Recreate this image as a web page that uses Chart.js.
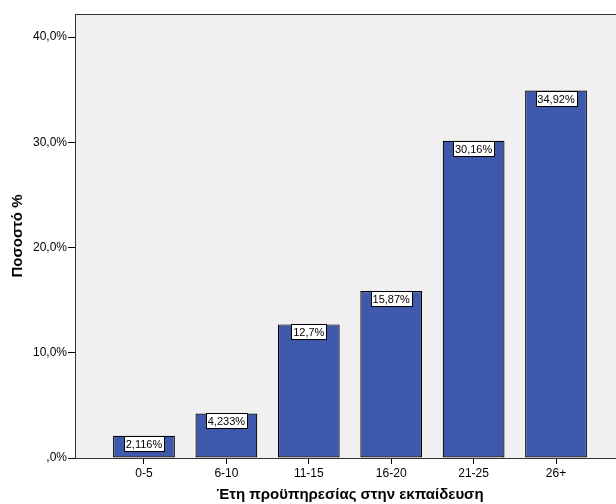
<!DOCTYPE html>
<html>
<head>
<meta charset="utf-8">
<script src="https://cdn.jsdelivr.net/npm/chart.js@4"></script>
<style>
  html, body { margin: 0; padding: 0; background: #fff; overflow: hidden; }
  #wrap { width: 640px; height: 504px; }
</style>
</head>
<body>
<div id="wrap"><canvas id="chart" width="640" height="504"></canvas></div>
<script>
// categories and values
const categories = ["0-5", "6-10", "11-15", "16-20", "21-25", "26+"];
const percents = [2.116, 4.233, 12.7, 15.87, 30.16, 34.92];
const yTicks = [0, 10, 20, 30, 40];

const fontFamily = "'Liberation Sans', Arial, sans-serif";

// gray plot background + frame
const plotFrame = {
  id: "plotFrame",
  beforeDatasetsDraw(chart) {
    const a = chart.chartArea;
    const ctx = chart.ctx;
    ctx.save();
    ctx.fillStyle = "#f0f0f0";
    ctx.fillRect(a.left, a.top, a.right - a.left, a.bottom - a.top);
    ctx.restore();
  },
  afterDraw(chart) {
    const a = chart.chartArea;
    const ctx = chart.ctx;
    ctx.save();
    ctx.strokeStyle = "#333";
    ctx.lineWidth = 1;
    ctx.strokeRect(a.left + 0.5, a.top + 0.5, a.right - a.left, a.bottom - a.top);
    ctx.restore();
  },
};

// white boxed value labels at the top of each bar
const boxLabels = {
  id: "boxLabels",
  afterDatasetsDraw(chart) {
    const ctx = chart.ctx;
    const meta = chart.getDatasetMeta(0);
    ctx.save();
    ctx.font = "11px " + fontFamily;
    ctx.textAlign = "center";
    ctx.textBaseline = "middle";
    meta.data.forEach((bar, i) => {
      const text = String(percents[i]).replace(".", ",") + "%";
      const w = Math.round(ctx.measureText(text).width + 4);
      const h = 15;
      const x = Math.round(bar.x - w / 2) + 0.5;
      const y = Math.round(bar.y) + 0.5;
      ctx.fillStyle = "#fff";
      ctx.fillRect(x, y, w, h);
      ctx.strokeStyle = "#000";
      ctx.lineWidth = 1;
      ctx.strokeRect(x, y, w, h);
      ctx.fillStyle = "#000";
      ctx.fillText(text, bar.x, y + h / 2 + 0.5);
    });
    ctx.restore();
  },
};

new Chart(document.getElementById("chart").getContext("2d"), {
  type: "bar",
  data: {
    datasets: [
      {
        data: percents.map((v, i) => ({ x: i, y: v })),
        backgroundColor: "#3e58ab",
        borderColor: "#000",
        borderWidth: 1.2,
        borderSkipped: false,
        barPercentage: 0.75,
        categoryPercentage: 1,
      },
    ],
  },
  options: {
    responsive: false,
    animation: false,
    layout: { padding: { top: 14, right: 15, left: 0, bottom: 0 } },
    plugins: { legend: { display: false }, tooltip: { enabled: false } },
    scales: {
      x: {
        type: "linear",
        min: -0.837,
        max: 5.837,
        offset: false,
        afterFit(scale) { scale.height = 46; },
        afterBuildTicks(scale) { scale.ticks = categories.map((c, i) => ({ value: i })); },
        border: { display: true, color: "#000" },
        grid: { offset: false, drawOnChartArea: false, drawTicks: true, tickLength: 6, color: "#000" },
        ticks: {
          autoSkip: false,
          maxRotation: 0,
          color: "#000",
          padding: 2,
          font: { family: fontFamily, size: 12 },
          callback: (v) => categories[v] ?? "",
        },
        title: {
          display: true,
          text: "Έτη προϋπηρεσίας στην εκπαίδευση",
          color: "#000",
          font: { family: fontFamily, size: 15, weight: "bold" },
          padding: { top: 4, bottom: 0 },
        },
      },
      y: {
        min: 0,
        max: 42.2,
        afterFit(scale) { scale.width = 75; },
        afterBuildTicks(scale) { scale.ticks = yTicks.map((v) => ({ value: v })); },
        border: { display: true, color: "#000" },
        grid: { drawOnChartArea: false, drawTicks: true, tickLength: 7, color: "#000" },
        ticks: {
          color: "#000",
          padding: 1,
          font: { family: fontFamily, size: 12 },
          callback: (v) => (v === 0 ? ",0%" : v.toFixed(1).replace(".", ",") + "%"),
        },
        title: {
          display: true,
          text: "Ποσοστό %",
          color: "#000",
          font: { family: fontFamily, size: 15, weight: "bold" },
          padding: { top: 9, bottom: 0 },
        },
      },
    },
  },
  plugins: [plotFrame, boxLabels],
});
</script>
</body>
</html>
